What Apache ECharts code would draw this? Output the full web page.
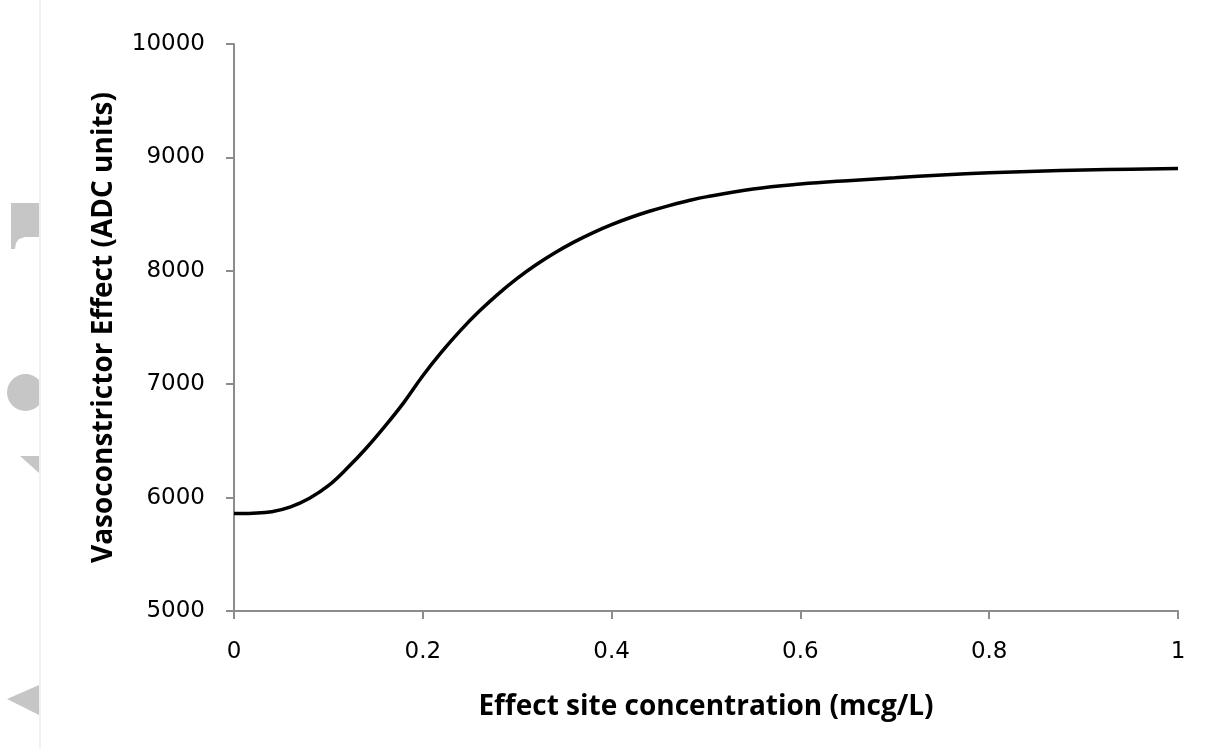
<!DOCTYPE html>
<html>
<head>
<meta charset="utf-8">
<script src="https://cdn.jsdelivr.net/npm/echarts@6/dist/echarts.min.js"></script>
<style>html,body{margin:0;padding:0;background:#fff}#c{width:1217px;height:749px}</style>
</head>
<body>
<div id="c"></div>
<script>
const concentration = [0, 0.02, 0.04, 0.06, 0.08, 0.10, 0.12, 0.14, 0.16, 0.18, 0.20, 0.22, 0.24, 0.26, 0.28, 0.30, 0.32, 0.34, 0.36, 0.38, 0.40, 0.42, 0.44, 0.46, 0.48, 0.50, 0.55, 0.60, 0.65, 0.70, 0.75, 0.80, 0.85, 0.90, 0.95, 1.0];
const effect = [5860, 5863, 5876, 5919, 5995, 6105, 6260, 6435, 6630, 6840, 7075, 7285, 7475, 7645, 7797, 7933, 8053, 8159, 8253, 8335, 8407, 8470, 8525, 8573, 8615, 8652, 8722, 8765, 8795, 8820, 8845, 8864, 8878, 8889, 8896, 8902];
const xTitle = 'Effect site concentration (mcg/L)';
const yTitle = 'Vasoconstrictor Effect (ADC units)';

const chart = echarts.init(document.getElementById('c'));
const axisGray = '#8c8c8c';
const titleFont = "'Open Sans', sans-serif";
const tickFont = "'DejaVu Sans', sans-serif";
chart.setOption({
  animation: false,
  backgroundColor: '#fff',
  grid: { left: 234, right: 39, top: 44, bottom: 138 },
  xAxis: {
    type: 'value', min: 0, max: 1, interval: 0.2,
    name: xTitle, nameLocation: 'middle', nameGap: 82,
    nameTextStyle: { fontFamily: titleFont, fontWeight: 'bold', fontSize: 28, color: '#000' },
    axisLine: { lineStyle: { color: axisGray, width: 2 } },
    axisTick: { show: true, length: 8, lineStyle: { color: axisGray, width: 2 } },
    axisLabel: { fontFamily: tickFont, fontSize: 23, color: '#000', margin: 30 },
    splitLine: { show: false }
  },
  yAxis: {
    type: 'value', min: 5000, max: 10000, interval: 1000,
    name: yTitle, nameLocation: 'middle', nameGap: 116, nameRotate: 90,
    nameTextStyle: { fontFamily: titleFont, fontWeight: 'bold', fontSize: 28, color: '#000' },
    axisLine: { show: true, lineStyle: { color: axisGray, width: 2 } },
    axisTick: { show: true, length: 8, lineStyle: { color: axisGray, width: 2 } },
    axisLabel: { fontFamily: tickFont, fontSize: 23, color: '#000', margin: 29, formatter: v => String(v) },
    splitLine: { show: false }
  },
  graphic: [
    { type: 'polygon', shape: { points: [[11,203],[39,203],[39,237],[25,237],[19,239],[16,243],[15,249],[11,249]] }, style: { fill: '#c6c6c6' }, silent: true },
    { type: 'circle', shape: { cx: 25.5, cy: 392.5, r: 18.5 }, style: { fill: '#c6c6c6' }, silent: true },
    { type: 'rect', shape: { x: 39, y: 370, width: 8, height: 46 }, style: { fill: '#fff' }, silent: true },
    { type: 'polygon', shape: { points: [[20,456],[39,456],[39,473]] }, style: { fill: '#c6c6c6' }, silent: true },
    { type: 'polygon', shape: { points: [[7,699],[39,685],[39,715]] }, style: { fill: '#c6c6c6' }, silent: true },
    { type: 'rect', shape: { x: 39, y: 0, width: 2, height: 749 }, style: { fill: '#f0f0f0' }, silent: true }
  ],
  series: [{
    type: 'line',
    data: concentration.map((c, i) => [c, effect[i]]),
    smooth: 0.4,
    showSymbol: false,
    lineStyle: { color: '#000', width: 3.5 }
  }]
});
</script>
</body>
</html>
